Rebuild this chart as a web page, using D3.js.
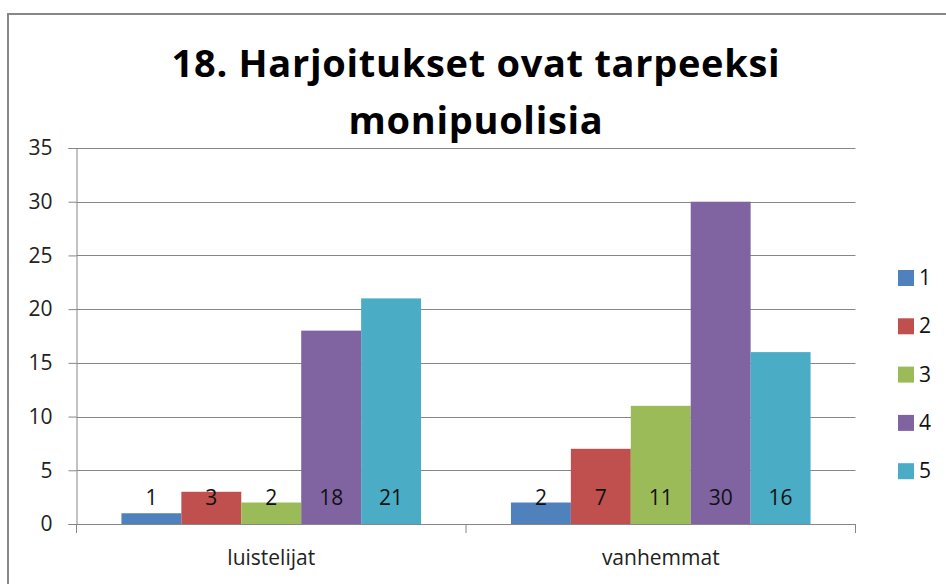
<!DOCTYPE html>
<html>
<head>
<meta charset="utf-8">
<script src="https://cdn.jsdelivr.net/npm/d3@7"></script>
<style>
  body { margin: 0; background: #fff; }
  svg { display: block; font-family: "Open Sans", "Liberation Sans", sans-serif; }
</style>
</head>
<body>
<svg id="chart" width="946" height="584"></svg>
<script>
// chart data
const categories = ['luistelijat', 'vanhemmat'];
const seriesNames = ['1', '2', '3', '4', '5'];
const values = [
  [1, 2],    // 1
  [3, 7],    // 2
  [2, 11],   // 3
  [18, 30],  // 4
  [21, 16],  // 5
];
const yTicks = [0, 5, 10, 15, 20, 25, 30, 35];
const colors = ['#4F81BD', '#C0504D', '#9BBB59', '#8064A2', '#4BACC6'];

const font = '"Open Sans", "Liberation Sans", sans-serif';
const svg = d3.select('#chart');

// outer border (chart area frame)
svg.append('rect')
  .attr('x', 8).attr('y', 14)
  .attr('width', 960).attr('height', 600)
  .attr('fill', 'none')
  .attr('stroke', '#878787')
  .attr('stroke-width', 2);

// title
const title = svg.append('text')
  .attr('text-anchor', 'middle')
  .attr('font-weight', 'bold')
  .attr('font-size', 38)
  .attr('letter-spacing', 0.7)
  .attr('fill', '#000');
title.append('tspan').attr('x', 476).attr('y', 77).text('18. Harjoitukset ovat tarpeeksi');
title.append('tspan').attr('x', 476).attr('y', 134).text('monipuolisia');

const plotLeft = 76.5, plotRight = 855.5, plotTop = 148, plotBottom = 524;

const x0 = d3.scaleBand().domain(categories).range([plotLeft, plotRight]);
const x1 = d3.scaleBand().domain(seriesNames)
  .range([0, x0.bandwidth()])
  .paddingOuter(0.75);
const y = d3.scaleLinear().domain([0, 35]).range([plotBottom, plotTop]);

// gridlines
svg.append('g')
  .selectAll('line')
  .data(yTicks.filter((d) => d > 0))
  .join('line')
  .attr('x1', plotLeft).attr('x2', plotRight)
  .attr('y1', (d) => Math.round(y(d)) + 0.5)
  .attr('y2', (d) => Math.round(y(d)) + 0.5)
  .attr('stroke', '#868686');

// bars
const groups = svg.append('g')
  .selectAll('g')
  .data(seriesNames)
  .join('g')
  .attr('fill', (d, i) => colors[i]);

groups.selectAll('rect')
  .data((s, i) => categories.map((c, j) => ({ s, c, v: values[i][j] })))
  .join('rect')
  .attr('x', (d) => x0(d.c) + x1(d.s))
  .attr('width', x1.bandwidth())
  .attr('y', (d) => y(d.v))
  .attr('height', (d) => y(0) - y(d.v));

// data labels (inside base)
groups.selectAll('text')
  .data((s, i) => categories.map((c, j) => ({ s, c, v: values[i][j] })))
  .join('text')
  .attr('x', (d) => x0(d.c) + x1(d.s) + x1.bandwidth() / 2)
  .attr('y', y(0) - 19)
  .attr('text-anchor', 'middle')
  .attr('font-size', 21)
  .attr('fill', '#111')
  .text((d) => d.v);

// y axis
const yAxis = svg.append('g')
  .attr('transform', `translate(${plotLeft},0)`)
  .call(d3.axisLeft(y).tickValues(yTicks).tickSize(8).tickPadding(16))
  .attr('font-family', font)
  .attr('font-size', 21);
yAxis.select('.domain').attr('stroke', '#868686');
yAxis.selectAll('.tick line').attr('stroke', '#868686');
yAxis.selectAll('.tick text').attr('fill', '#222');

// x axis
const xAxis = svg.append('g')
  .attr('transform', `translate(0,${plotBottom})`)
  .call(d3.axisBottom(x0).tickSize(0).tickPadding(26))
  .attr('font-family', font)
  .attr('font-size', 21);
xAxis.select('.domain').attr('stroke', '#868686');
xAxis.selectAll('.tick text').attr('fill', '#222');

// category separator ticks
svg.append('g')
  .selectAll('line')
  .data(categories.concat(['end']))
  .join('line')
  .attr('x1', (d) => (d === 'end' ? plotRight : x0(d)))
  .attr('x2', (d) => (d === 'end' ? plotRight : x0(d)))
  .attr('y1', plotBottom)
  .attr('y2', plotBottom + 9)
  .attr('stroke', '#868686');

// legend
const legend = svg.append('g')
  .selectAll('g')
  .data(seriesNames)
  .join('g')
  .attr('transform', (d, i) => `translate(898,${270 + i * 48.3})`);

legend.append('rect')
  .attr('width', 16).attr('height', 16)
  .attr('fill', (d, i) => colors[i]);

legend.append('text')
  .attr('x', 21).attr('y', 15)
  .attr('font-size', 21)
  .attr('fill', '#111')
  .text((d) => d);
</script>
</body>
</html>
